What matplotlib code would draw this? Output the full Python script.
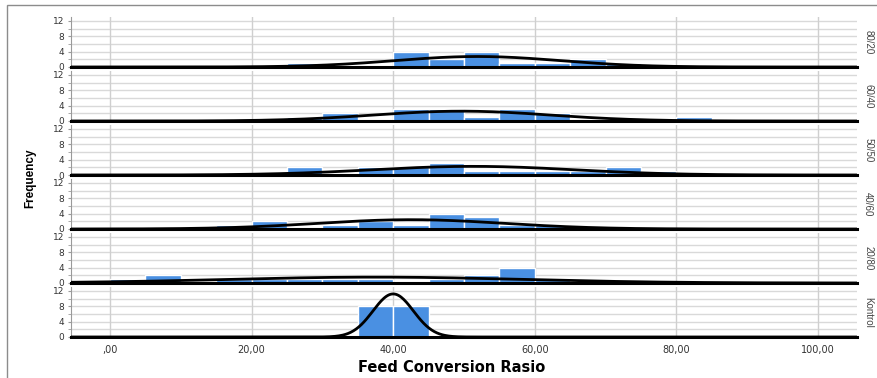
import numpy as np
import matplotlib
matplotlib.use("Agg")
import matplotlib.pyplot as plt
from matplotlib.patches import Rectangle

plt.rcParams["font.family"] = ["DejaVu Sans"]

# groups, top to bottom
groups = ["80/20", "60/40", "50/50", "40/60", "20/80", "Kontrol"]

# left bin edges (width 5) and counts
bin_edges = list(range(0, 85, 5))
counts_8020 = [0, 0, 0, 0, 0, 1, 0, 0, 4, 2, 4, 1, 1, 2, 1, 0, 0]
counts_6040 = [0, 0, 0, 0, 0, 1, 2, 0, 3, 3, 1, 3, 2, 0, 0, 0, 1]
counts_5050 = [0, 0, 0, 0, 0, 2, 0, 2, 2, 3, 1, 1, 1, 1, 2, 1, 0]
counts_4060 = [0, 0, 0, 1, 2, 0, 1, 2, 1, 4, 3, 1, 1, 0, 0, 0, 0]
counts_2080 = [1, 2, 0, 1, 1, 1, 1, 1, 0, 1, 2, 4, 1, 0, 0, 0, 0]
counts_kontrol = [0, 0, 0, 0, 0, 0, 0, 8, 8, 0, 0, 0, 0, 0, 0, 0, 0]

# fitted normal curve parameters (n = 16 each)
means = [51.9, 49.7, 51.3, 42.5, 37.5, 40.0]
sds = [11.7, 12.5, 14.2, 13.2, 20.9, 2.85]
n_obs = 16

xticks = [0, 20, 40, 60, 80, 100]
xtick_labels = [",00", "20,00", "40,00", "60,00", "80,00", "100,00"]

all_counts = [counts_8020, counts_6040, counts_5050, counts_4060, counts_2080, counts_kontrol]

W, H = 878, 378
fig = plt.figure(figsize=(W / 100, H / 100), dpi=100)

# thin frame around the whole figure (open to the right and bottom)
fig.patches.append(Rectangle((7 / W, -0.02), 1.1, 1 - 5 / H + 0.02,
                             transform=fig.transFigure, fill=False,
                             edgecolor="#8c8c8c", linewidth=1))

left, right = 71 / W, 857 / W
bar_color = "#4a90e2"
x = np.linspace(-6, 106, 600)
width = 5

for i, (name, counts) in enumerate(zip(groups, all_counts)):
    zero_px = 67 + 54 * i
    top_px = zero_px - 50
    ax = fig.add_axes([left, 1 - zero_px / H, right - left, (zero_px - top_px) / H])
    ax.set_xlim(-5.5, 105.5)
    ax.set_ylim(0, 13)

    for gy in range(2, 13, 2):
        ax.axhline(gy, color="#d9d9d9", linewidth=1, zorder=0)
    for gx in xticks:
        ax.axvline(gx, color="#cfcfcf", linewidth=1, zorder=0)

    ax.bar(bin_edges, counts, width=width, align="edge", color=bar_color,
           edgecolor="white", linewidth=1, zorder=2)

    m, s = means[i], sds[i]
    y = n_obs * width / (s * np.sqrt(2 * np.pi)) * np.exp(-0.5 * ((x - m) / s) ** 2)
    ax.plot(x, y, color="black", linewidth=2, zorder=3)

    for sp in ["top", "right"]:
        ax.spines[sp].set_visible(False)
    ax.spines["left"].set_color("#9a9a9a")
    ax.spines["bottom"].set_color("black")
    ax.spines["bottom"].set_linewidth(2.2)

    ax.set_yticks([0, 4, 8, 12])
    ax.set_yticks(range(0, 13, 2), minor=True)
    ax.tick_params(axis="y", which="both", length=2, color="#9a9a9a",
                   labelsize=6.5, pad=3, labelcolor="#333333")
    ax.set_xticks(xticks)
    if i == len(groups) - 1:
        ax.set_xticklabels(xtick_labels)
        ax.tick_params(axis="x", length=0, labelsize=7, pad=6, labelcolor="#333333")
    else:
        ax.tick_params(axis="x", length=0, labelbottom=False)

    ax.text(1.008, 0.5, name, transform=ax.transAxes, rotation=270,
            ha="left", va="center", fontsize=7, color="#444444",
            family=["Liberation Sans Narrow", "Liberation Sans", "DejaVu Sans"])

fig.text(30 / W, 1 - 178 / H, "Frequency", rotation=90, ha="center", va="center",
         fontsize=8.5, fontweight="bold",
         family=["Liberation Sans Narrow", "Liberation Sans", "DejaVu Sans"])
fig.text(452 / W, 1 - 368 / H, "Feed Conversion Rasio", ha="center", va="center",
         fontsize=10.5, fontweight="bold")

fig.savefig("out.png", dpi=100)
